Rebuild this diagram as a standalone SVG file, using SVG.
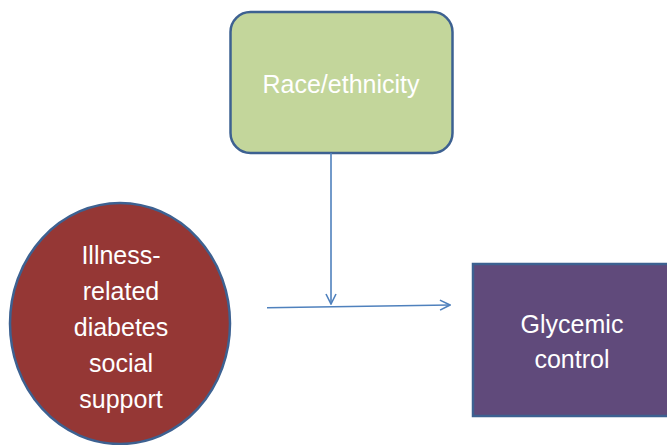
<svg xmlns="http://www.w3.org/2000/svg" width="667" height="445" viewBox="0 0 667 445">
<defs>
<style>
.lbl{font-family:"Liberation Sans","Noto Sans",sans-serif;font-size:25px;fill:#ffffff;text-anchor:middle}
.conn{stroke:#4f81bd;stroke-width:1.6;fill:none}
</style>
<marker id="open" viewBox="0 0 12 12" refX="11" refY="6" markerWidth="12" markerHeight="12" markerUnits="userSpaceOnUse" orient="auto">
<path d="M1,1 L11,6 L1,11" fill="none" stroke="#4f81bd" stroke-width="1.6"/>
</marker>
</defs>
<rect width="667" height="445" fill="#ffffff"/>
<g id="race">
<rect x="230.5" y="12" width="222" height="141" rx="20" fill="#c3d69b" stroke="#3d6191" stroke-width="2.5"/>
<text class="lbl" x="341" y="93">Race/ethnicity</text>
</g>
<g id="support">
<ellipse cx="120" cy="323.5" rx="110" ry="120.5" fill="#953735" stroke="#3d6191" stroke-width="2.5"/>
<text class="lbl" x="121" y="264">Illness-</text>
<text class="lbl" x="121" y="300">related</text>
<text class="lbl" x="121" y="336">diabetes</text>
<text class="lbl" x="121" y="372">social</text>
<text class="lbl" x="121" y="408">support</text>
</g>
<g id="glycemic">
<rect x="473" y="264" width="200" height="152" fill="#604a7b" stroke="#3d6191" stroke-width="2.5"/>
<text class="lbl" x="572" y="333">Glycemic</text>
<text class="lbl" x="572" y="368">control</text>
</g>
<g id="connectors">
<line class="conn" x1="331" y1="153" x2="331" y2="304" marker-end="url(#open)"/>
<line class="conn" x1="267" y1="307.7" x2="450" y2="305" marker-end="url(#open)"/>
</g>
</svg>
